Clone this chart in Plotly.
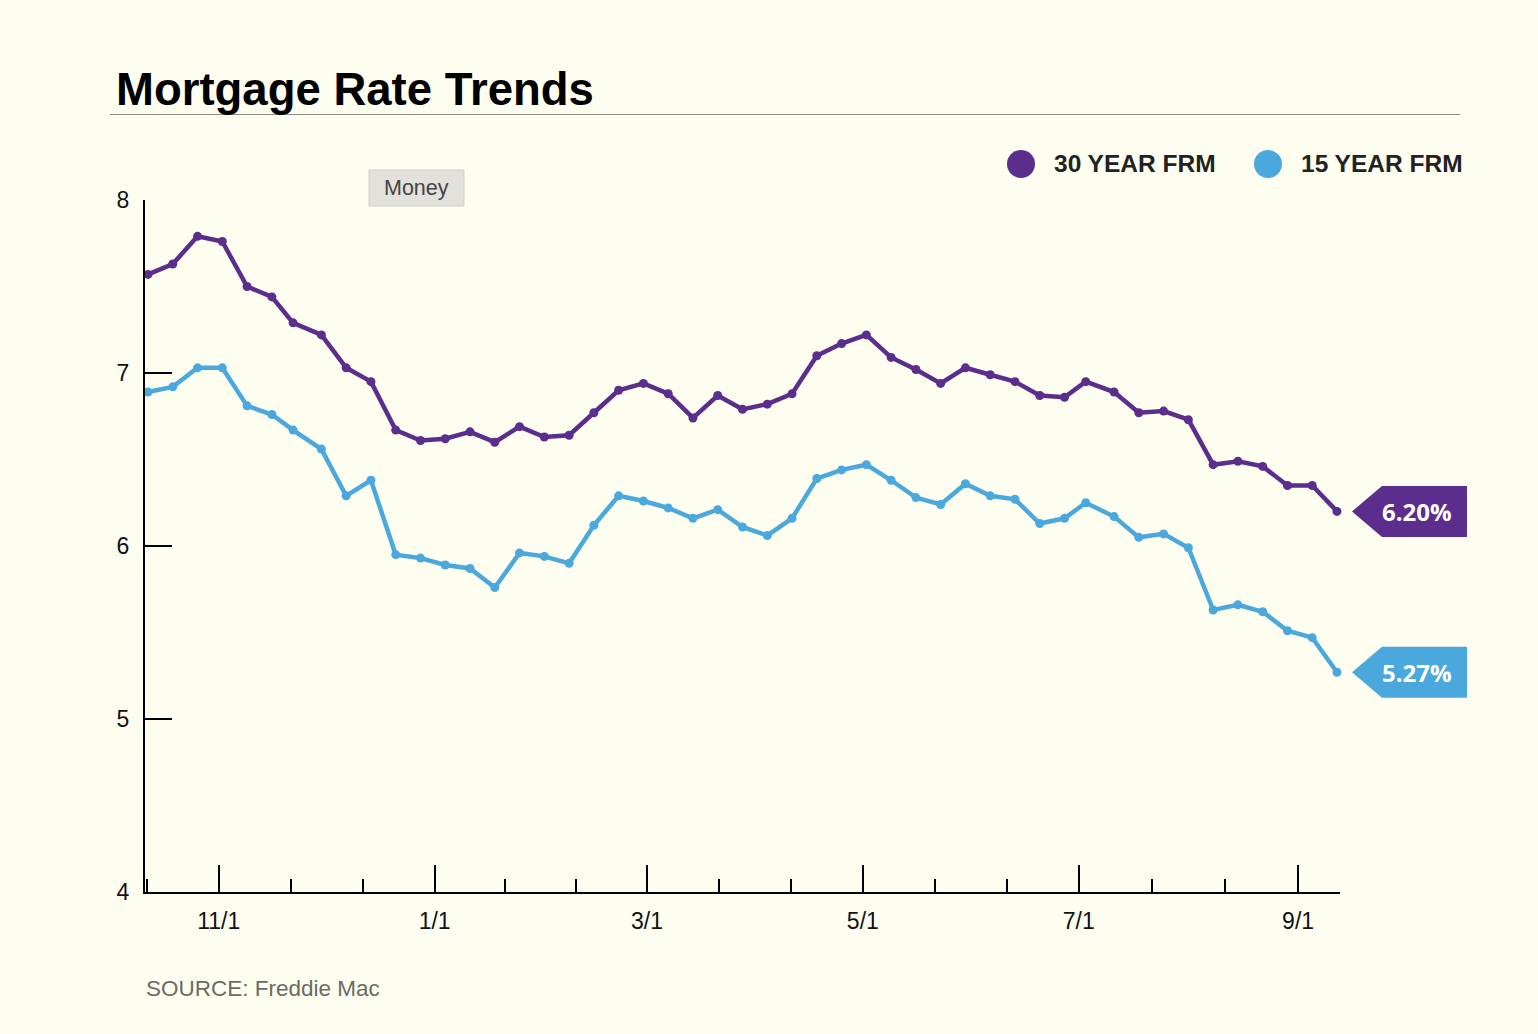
import plotly.graph_objects as go
import pandas as pd

# ---------------- data ----------------
dates = ['2023-10-12','2023-10-19','2023-10-26','2023-11-02','2023-11-09','2023-11-16','2023-11-22',
         '2023-11-30','2023-12-07','2023-12-14','2023-12-21','2023-12-28','2024-01-04','2024-01-11',
         '2024-01-18','2024-01-25','2024-02-01','2024-02-08','2024-02-15','2024-02-22','2024-02-29',
         '2024-03-07','2024-03-14','2024-03-21','2024-03-28','2024-04-04','2024-04-11','2024-04-18',
         '2024-04-25','2024-05-02','2024-05-09','2024-05-16','2024-05-23','2024-05-30','2024-06-06',
         '2024-06-13','2024-06-20','2024-06-27','2024-07-03','2024-07-11','2024-07-18','2024-07-25',
         '2024-08-01','2024-08-08','2024-08-15','2024-08-22','2024-08-29','2024-09-05','2024-09-12']
rate30 = [7.57,7.63,7.79,7.76,7.50,7.44,7.29,7.22,7.03,6.95,6.67,6.61,6.62,6.66,6.60,6.69,6.63,
          6.64,6.77,6.90,6.94,6.88,6.74,6.87,6.79,6.82,6.88,7.10,7.17,7.22,7.09,7.02,6.94,7.03,
          6.99,6.95,6.87,6.86,6.95,6.89,6.77,6.78,6.73,6.47,6.49,6.46,6.35,6.35,6.20]
rate15 = [6.89,6.92,7.03,7.03,6.81,6.76,6.67,6.56,6.29,6.38,5.95,5.93,5.89,5.87,5.76,5.96,5.94,
          5.90,6.12,6.29,6.26,6.22,6.16,6.21,6.11,6.06,6.16,6.39,6.44,6.47,6.38,6.28,6.24,6.36,
          6.29,6.27,6.13,6.16,6.25,6.17,6.05,6.07,5.99,5.63,5.66,5.62,5.51,5.47,5.27]
series_names = ['30 YEAR FRM', '15 YEAR FRM']
x_tick_dates = ['2023-11-01','2024-01-01','2024-03-01','2024-05-01','2024-07-01','2024-09-01']
x_tick_labels = ['11/1','1/1','3/1','5/1','7/1','9/1']
y_tick_vals = [4, 5, 6, 7, 8]

# ---------------- style ----------------
PURPLE = '#5b2d8d'
BLUE = '#4ba8dc'
BG = '#fefef0'
FONT = 'Liberation Sans, Arial, sans-serif'

# page layout in page pixels (body margin removed below)
PL, PR, PT, PB = 145, 1340, 200, 892
W, H = 1538, 1034

def px(X):
    return (X - PL) / (PR - PL)

def py(Y):
    return (PB - Y) / (PB - PT)

# minor ticks: thirds between major ticks, plus one before the first
maj = [pd.Timestamp(d) for d in x_tick_dates]
minor = [maj[0] - (maj[1] - maj[0]) / 3]
for a, b in zip(maj[:-1], maj[1:]):
    minor += [a + (b - a) / 3, a + 2 * (b - a) / 3]
minor = [m.strftime('%Y-%m-%d %H:%M') for m in minor]

fig = go.Figure()
for vals, col, name in [(rate15, BLUE, series_names[1]), (rate30, PURPLE, series_names[0])]:
    fig.add_trace(go.Scatter(x=dates, y=vals, mode='lines+markers', name=name,
                             line=dict(color=col, width=4.5), marker=dict(color=col, size=9),
                             showlegend=False, cliponaxis=False))

shapes = []
annotations = []

# title + rule
annotations.append(dict(text='<b>Mortgage Rate Trends</b>', xref='paper', yref='paper',
                        x=px(114), y=py(89), xanchor='left', yanchor='middle', showarrow=False,
                        font=dict(family=FONT, size=45.5, color='#000000')))
shapes.append(dict(type='line', xref='paper', yref='paper', x0=px(110), x1=px(1460),
                   y0=py(114.5), y1=py(114.5), line=dict(color='#8d8d80', width=1)))

# legend
for cx, col, name in [(1021, PURPLE, series_names[0]), (1268, BLUE, series_names[1])]:
    shapes.append(dict(type='circle', xref='paper', yref='paper', x0=px(cx - 14), x1=px(cx + 14),
                       y0=py(164 + 14), y1=py(164 - 14), fillcolor=col, line=dict(width=0)))
    annotations.append(dict(text='<b>' + name + '</b>', xref='paper', yref='paper', x=px(cx + 31),
                            y=py(164), xanchor='left', yanchor='middle', showarrow=False,
                            font=dict(family=FONT, size=24.5, color='#222222')))

# "Money" box
shapes.append(dict(type='rect', xref='paper', yref='paper', x0=px(369), x1=px(464), y0=py(206),
                   y1=py(170), fillcolor='#e3e1dc', line=dict(color='#cfcdc6', width=1)))
annotations.append(dict(text='Money', xref='paper', yref='paper', x=px(416.5), y=py(188),
                        xanchor='center', yanchor='middle', showarrow=False,
                        font=dict(family=FONT, size=21.5, color='#444444')))

# end-value tags
half = 25.5 / (PB - PT) * (y_tick_vals[-1] - y_tick_vals[0])
for vals, col in [(rate30, PURPLE), (rate15, BLUE)]:
    v = vals[-1]
    path = (f'M {px(1352)} {v} L {px(1382)} {v + half} L {px(1467)} {v + half} '
            f'L {px(1467)} {v - half} L {px(1382)} {v - half} Z')
    shapes.append(dict(type='path', xref='paper', yref='y', path=path, fillcolor=col,
                       line=dict(width=0)))
    annotations.append(dict(text=f'<b>{v:.2f}%</b>', xref='paper', yref='y', x=px(1417), y=v,
                            xanchor='center', yanchor='middle', showarrow=False,
                            font=dict(family='Open Sans, sans-serif', size=24, color='#ffffff')))

# source
annotations.append(dict(text='SOURCE: Freddie Mac', xref='paper', yref='paper', x=px(144),
                        y=py(988), xanchor='left', yanchor='middle', showarrow=False,
                        font=dict(family=FONT, size=22.5, color='#6b6b63')))

fig.update_layout(
    width=W, height=H,
    margin=dict(l=PL, r=W - PR, t=PT, b=H - PB, pad=0),
    paper_bgcolor=BG, plot_bgcolor=BG,
    shapes=shapes, annotations=annotations,
    hovermode=False,
    xaxis=dict(type='date', range=['2023-10-11 03:40', '2024-09-12 20:20'],
               tickmode='array', tickvals=x_tick_dates, ticktext=x_tick_labels,
               ticks='inside', ticklen=27, tickwidth=2, tickcolor='#000000',
               showline=True, linecolor='#000000', linewidth=2, showgrid=False, zeroline=False,
               tickfont=dict(family=FONT, size=23, color='#111111'), ticklabelstandoff=7,
               minor=dict(tickmode='array', tickvals=minor, ticks='inside', ticklen=13,
                          tickwidth=2, tickcolor='#000000', showgrid=False)),
    yaxis=dict(range=[4, 8], tickmode='array', tickvals=y_tick_vals,
               ticks='inside', ticklen=27, tickwidth=2, tickcolor='#000000',
               showline=True, linecolor='#000000', linewidth=2, showgrid=False, zeroline=False,
               tickfont=dict(family=FONT, size=23, color='#111111'), ticklabelstandoff=9),
)

fig.write_html('out.html', config={'displayModeBar': False}, post_script=(
    "document.body.style.margin='0';"
    f"document.body.style.background='{BG}';"
    f"document.documentElement.style.background='{BG}';"))
